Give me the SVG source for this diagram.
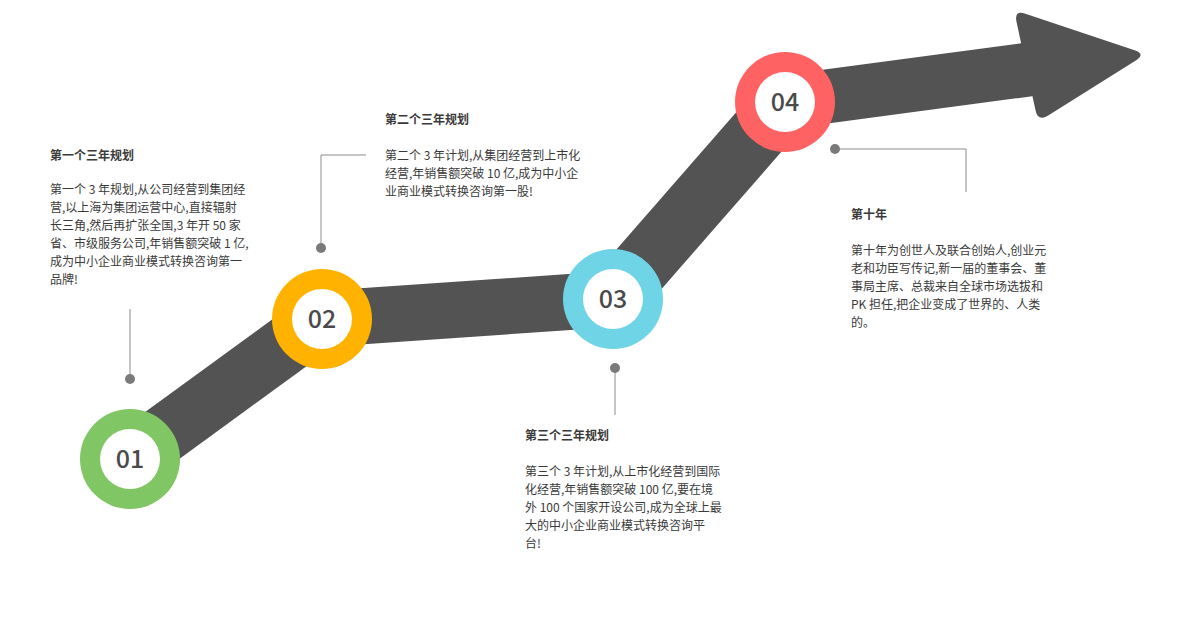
<svg xmlns="http://www.w3.org/2000/svg" width="1200" height="631" viewBox="0 0 1200 631">
<style>
.band{stroke:#535353;fill:none;stroke-linecap:butt}
.lead{stroke:#8c8c8c;stroke-width:1;fill:none}
.dot{fill:#7a7a7a}
.ring{fill:#fff}
.num{font-family:"Noto Sans CJK SC","Noto Sans",sans-serif;font-size:25px;font-weight:500;fill:#4a4a4a;text-anchor:middle}
.t{font-family:"Noto Sans CJK SC","Noto Sans",sans-serif;font-size:12px;fill:#3a3a3a}
.h{font-weight:700}
</style>
<rect width="1200" height="631" fill="#fff"/>
<g id="connectors">
<line class="band" x1="130" y1="459" x2="322" y2="319" stroke-width="58"/>
<line class="band" x1="322" y1="319" x2="613" y2="299" stroke-width="56"/>
<line class="band" x1="613" y1="299" x2="785" y2="102" stroke-width="60"/>
<line class="band" x1="785" y1="102" x2="1032" y2="69" stroke-width="54"/>
<path d="M1025.4,13.8 L1134.6,50.2 Q1146,54 1135.8,60.4 L1048.2,115.6 Q1038,122 1035.5,110.3 L1016.5,21.7 Q1014,10 1025.4,13.8 Z" fill="#535353"/>
<polyline class="lead" points="130,309 130,379"/>
<polyline class="lead" points="366,155 321,155 321,248"/>
<polyline class="lead" points="615,368 615,415"/>
<polyline class="lead" points="835,149 966,149 966,192"/>
<circle class="dot" cx="130" cy="379" r="5"/>
<circle class="dot" cx="321" cy="248" r="5"/>
<circle class="dot" cx="615" cy="368" r="5"/>
<circle class="dot" cx="835" cy="149" r="5"/>
</g>
<g id="node01">
<circle cx="130" cy="459" r="50" fill="#80c664"/>
<circle class="ring" cx="130" cy="459" r="30"/>
<text class="num" x="130" y="468">01</text>
</g>
<g id="node02">
<circle cx="322" cy="319" r="50" fill="#ffb300"/>
<circle class="ring" cx="322" cy="319" r="30"/>
<text class="num" x="322" y="328">02</text>
</g>
<g id="node03">
<circle cx="613" cy="299" r="50" fill="#6fd4e6"/>
<circle class="ring" cx="613" cy="299" r="30"/>
<text class="num" x="613" y="308">03</text>
</g>
<g id="node04">
<circle cx="785" cy="102" r="50" fill="#ff6262"/>
<circle class="ring" cx="785" cy="102" r="30"/>
<text class="num" x="785" y="111">04</text>
</g>
<g id="text1" class="t">
<text class="h" x="50" y="160">第一个三年规划</text>
<text x="50" y="194">第一个 3 年规划,从公司经营到集团经</text>
<text x="50" y="212">营,以上海为集团运营中心,直接辐射</text>
<text x="50" y="230">长三角,然后再扩张全国,3 年开 50 家</text>
<text x="50" y="248">省、市级服务公司,年销售额突破 1 亿,</text>
<text x="50" y="266">成为中小企业商业模式转换咨询第一</text>
<text x="50" y="284">品牌!</text>
</g>
<g id="text2" class="t">
<text class="h" x="385" y="124">第二个三年规划</text>
<text x="385" y="160">第二个 3 年计划,从集团经营到上市化</text>
<text x="385" y="178">经营,年销售额突破 10 亿,成为中小企</text>
<text x="385" y="196">业商业模式转换咨询第一股!</text>
</g>
<g id="text3" class="t">
<text class="h" x="525" y="440">第三个三年规划</text>
<text x="525" y="476">第三个 3 年计划,从上市化经营到国际</text>
<text x="525" y="494">化经营,年销售额突破 100 亿,要在境</text>
<text x="525" y="512">外 100 个国家开设公司,成为全球上最</text>
<text x="525" y="530">大的中小企业商业模式转换咨询平</text>
<text x="525" y="548">台!</text>
</g>
<g id="text4" class="t">
<text class="h" x="851" y="219">第十年</text>
<text x="851" y="255">第十年为创世人及联合创始人,创业元</text>
<text x="851" y="273">老和功臣写传记,新一届的董事会、董</text>
<text x="851" y="291">事局主席、总裁来自全球市场选拔和</text>
<text x="851" y="309">PK 担任,把企业变成了世界的、人类</text>
<text x="851" y="327">的。</text>
</g>
</svg>
